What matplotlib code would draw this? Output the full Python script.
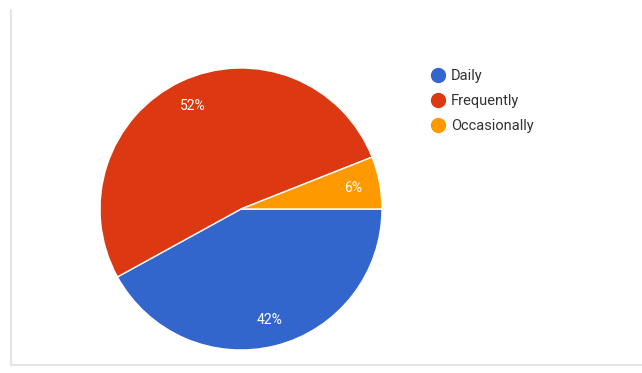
import matplotlib.pyplot as plt
from matplotlib.lines import Line2D

plt.rcParams['font.family'] = ['Roboto', 'DejaVu Sans']

labels = ["Daily", "Frequently", "Occasionally"]
shares = [42, 52, 6]
colors = ["#3366CC", "#DC3912", "#FF9900"]

fig = plt.figure(figsize=(6.42, 3.73), dpi=100)

# faint frame lines on the left and bottom
fig.add_artist(Line2D([11 / 642, 11 / 642], [1 - 10 / 373, 1 - 365 / 373],
                      color="#e4e4e4", linewidth=1.5))
fig.add_artist(Line2D([11 / 642, 1], [1 - 365 / 373, 1 - 365 / 373],
                      color="#e4e4e4", linewidth=1.5))

ax = fig.add_axes([100 / 642, 23 / 373, 282 / 642, 282 / 373])
wedges, texts, autotexts = ax.pie(
    shares, colors=colors, startangle=0, counterclock=False,
    autopct="%d%%", pctdistance=0.81,
    wedgeprops=dict(edgecolor="white", linewidth=1),
    textprops=dict(color="white", fontsize=10))
ax.set_xlim(-1, 1)
ax.set_ylim(-1, 1)
ax.set_aspect("equal")

handles = [Line2D([], [], marker="o", linestyle="", markersize=10,
                  markerfacecolor=c, markeredgecolor=c) for c in colors]
fig.legend(handles, labels, loc="upper left",
           bbox_to_anchor=(423 / 642, 1 - 63 / 373), frameon=False,
           fontsize=10.5, labelcolor="#333333", handletextpad=0.3,
           labelspacing=0.75, handlelength=1.2, borderaxespad=0)

fig.savefig("out.png", dpi=100, facecolor="white")
